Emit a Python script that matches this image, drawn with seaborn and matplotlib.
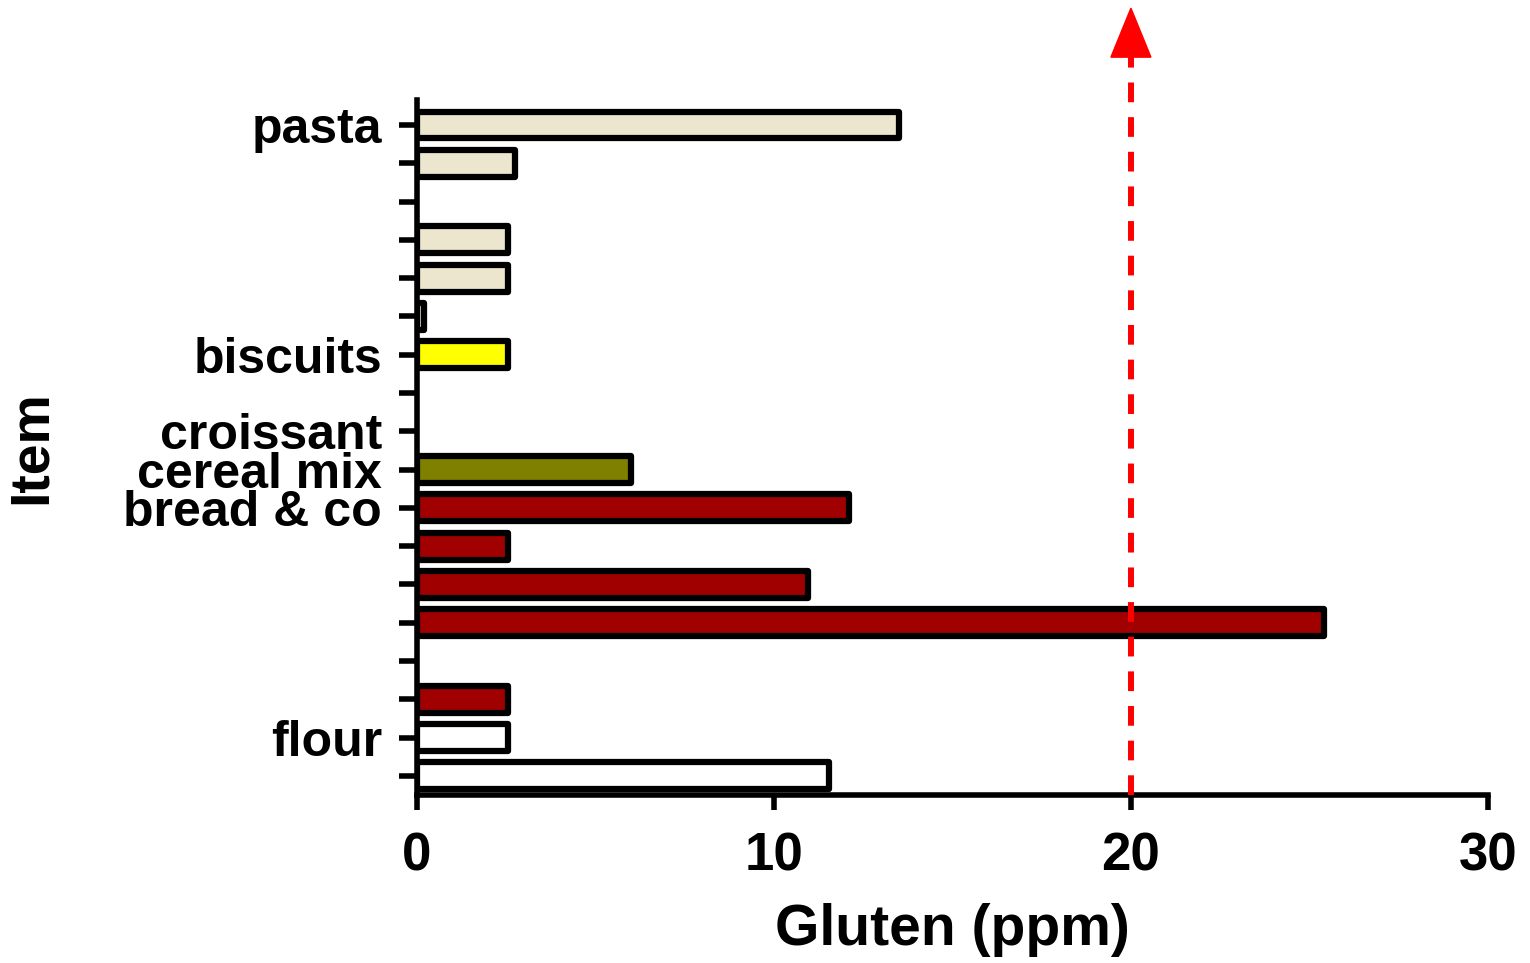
import numpy as np
import pandas as pd
import seaborn as sns
import matplotlib.pyplot as plt
from matplotlib.patches import Polygon
import matplotlib.transforms as mtransforms

sns.set_theme(style="white")
plt.rcParams['font.family'] = ['Liberation Sans', 'DejaVu Sans']
plt.rcParams['font.weight'] = 'bold'
for k in ['text.color', 'axes.labelcolor', 'xtick.color', 'ytick.color']:
    plt.rcParams[k] = 'black'

# rows from top to bottom
labels = ['pasta', '', '', '', '', '', 'biscuits', '', 'croissant', 'cereal mix',
          'bread & co', '', '', '', '', '', 'flour', '']
gluten = [13.5, 2.75, np.nan, 2.55, 2.55, 0.2, 2.55, np.nan, np.nan, 6.0,
          12.1, 2.55, 10.95, 25.4, np.nan, 2.55, 2.55, 11.55]
colors = ['#ebe6cd', '#ebe6cd', '#ebe6cd', '#ebe6cd', '#ebe6cd', '#ebe6cd', '#ffff00',
          '#ffff00', '#808000', '#808000', '#a00000', '#a00000', '#a00000', '#a00000',
          '#a00000', '#a00000', '#ffffff', '#ffffff']
threshold = 20

ids = [f'r{i}' for i in range(len(labels))]
df = pd.DataFrame({'row': ids, 'gluten': gluten})

fig = plt.figure(figsize=(15.3, 9.63), dpi=100)
ax = fig.add_axes([0.2725, 0.1745, 0.70, 0.7215])

sns.barplot(data=df, y='row', x='gluten', hue='row', order=ids,
            palette=dict(zip(ids, colors)), orient='h', legend=False, saturation=1,
            edgecolor='black', linewidth=4.5, width=0.7, ax=ax)
for p in ax.patches:
    p.set_joinstyle('round')

ax.set_xlim(0, 30)
ax.set_xticks([0, 10, 20, 30])
ax.set_yticks(range(len(labels)))
ax.set_yticklabels(labels)
ax.set_ylim(len(labels) - 0.5, -0.65)

for s in ['top', 'right']:
    ax.spines[s].set_visible(False)
for s in ['left', 'bottom']:
    ax.spines[s].set_linewidth(4)
    ax.spines[s].set_color('black')

ax.tick_params(axis='y', left=True, length=13, width=4, pad=12, labelsize=36)
ax.tick_params(axis='x', bottom=True, length=11, width=4, pad=15, labelsize=38)
for t in ax.get_xticklabels() + ax.get_yticklabels():
    t.set_fontweight('bold')

ax.set_xlabel('Gluten (ppm)', fontsize=41, fontweight='bold')
ax.set_ylabel('Item', fontsize=40, fontweight='bold')
ax.xaxis.set_label_coords(0.5, -0.155)
ax.yaxis.set_label_coords(-0.335, 0.5)

# threshold line with arrow head above the plot
trans = mtransforms.blended_transform_factory(ax.transData, ax.transAxes)
ax.plot([threshold, threshold], [0, 1.062], transform=trans, color='red',
        linewidth=4.3, linestyle=(0, (3.3, 2.5)), clip_on=False, zorder=5)
pix = ax.transAxes.transform([(0, 0), (0, 1)])
h = pix[1, 1] - pix[0, 1]
base = 1 + 43 / h
tip = 1 + 92 / h
head = Polygon([(threshold - 0.56, base), (threshold + 0.56, base), (threshold, tip)],
               closed=True, transform=trans, color='red', clip_on=False, zorder=6)
ax.add_patch(head)

fig.savefig('out.png', dpi=100)
